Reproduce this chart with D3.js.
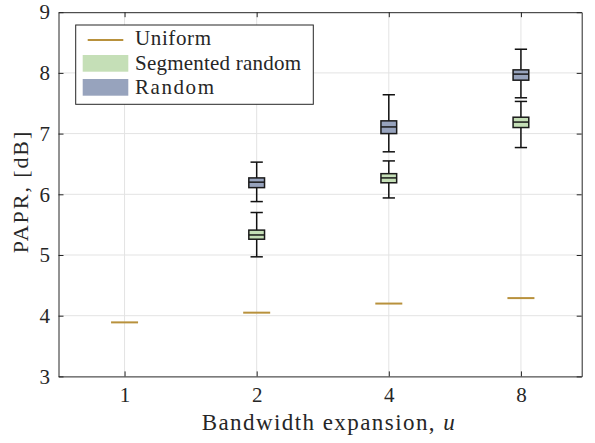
<!DOCTYPE html>
<html>
<head>
<meta charset="utf-8">
<script src="https://cdn.jsdelivr.net/npm/d3@7"></script>
<style>
  html, body { margin: 0; padding: 0; background: #fff; }
  svg { display: block; }
  svg text { font-family: "Liberation Serif", "DejaVu Serif", serif !important; fill: #262626; }
</style>
</head>
<body>
<svg id="chart" width="595" height="443"></svg>
<script>
// ---- data ----
const categories = ["1", "2", "4", "8"];
const yTicks = [3, 4, 5, 6, 7, 8, 9];
const uniform = [3.89, 4.05, 4.20, 4.29];

const boxCategories = ["2", "4", "8"];
const segLow    = [4.97, 5.94, 6.77];
const segQ1     = [5.26, 6.19, 7.10];
const segMedian = [5.33, 6.27, 7.19];
const segQ3     = [5.41, 6.34, 7.27];
const segHigh   = [5.70, 6.55, 7.53];

const randLow    = [5.88, 6.70, 7.59];
const randQ1     = [6.11, 7.00, 7.88];
const randMedian = [6.20, 7.11, 7.98];
const randQ3     = [6.27, 7.21, 8.05];
const randHigh   = [6.53, 7.64, 8.39];

const legendLabels = ["Uniform", "Segmented random", "Random"];

// ---- layout ----
const FONT = "'Liberation Serif', 'DejaVu Serif', serif";
const colors = { uniform: "#b8913c", seg: "#c5dfb7", rand: "#97a3bd" };
const plot = { left: 58.5, right: 581.7, top: 12.2, bottom: 376.4 };

const svg = d3.select("#chart");
const x = d3.scaleLinear().domain([-0.5, 3.46]).range([plot.left, plot.right]);
const y = d3.scaleLinear().domain([3, 9]).range([plot.bottom, plot.top]);
const xi = c => x(categories.indexOf(c));

// grid
const grid = svg.append("g");
grid.selectAll("line.gx").data(categories).enter().append("line")
  .attr("x1", d => xi(d)).attr("x2", d => xi(d))
  .attr("y1", plot.top).attr("y2", plot.bottom)
  .attr("stroke", "#e3e3e3").attr("stroke-width", 1);
grid.selectAll("line.gy").data(yTicks.slice(1, -1)).enter().append("line")
  .attr("x1", plot.left).attr("x2", plot.right)
  .attr("y1", d => y(d)).attr("y2", d => y(d))
  .attr("stroke", "#e3e3e3").attr("stroke-width", 1);

// axes (box with inward ticks)
const tickLen = 5;
const axisColor = "#262626";
const bottomAxis = d3.axisBottom(x).tickValues(d3.range(categories.length))
  .tickFormat(i => categories[i]).tickSizeInner(-tickLen).tickSizeOuter(0).tickPadding(11);
const gb = svg.append("g").attr("transform", `translate(0,${plot.bottom})`).call(bottomAxis);
const topAxis = d3.axisTop(x).tickValues(d3.range(categories.length))
  .tickFormat("").tickSizeInner(-tickLen).tickSizeOuter(0);
const gt = svg.append("g").attr("transform", `translate(0,${plot.top})`).call(topAxis);
const leftAxis = d3.axisLeft(y).tickValues(yTicks).tickFormat(d3.format("d"))
  .tickSizeInner(-tickLen).tickSizeOuter(0).tickPadding(8.5);
const gl = svg.append("g").attr("transform", `translate(${plot.left},0)`).call(leftAxis);
const rightAxis = d3.axisRight(y).tickValues(yTicks).tickFormat("")
  .tickSizeInner(-tickLen).tickSizeOuter(0);
const gr = svg.append("g").attr("transform", `translate(${plot.right},0)`).call(rightAxis);
[gb, gt, gl, gr].forEach(g => {
  g.attr("font-family", FONT).attr("font-size", 21);
  g.select(".domain").attr("stroke", axisColor).attr("stroke-width", 1);
  g.selectAll(".tick line").attr("stroke", axisColor).attr("stroke-width", 1);
  g.selectAll(".tick text").attr("fill", "#262626").style("font-family", FONT);
});
gb.selectAll(".tick text").attr("dy", "0.71em");

// uniform markers
svg.append("g").selectAll("line").data(uniform).enter().append("line")
  .attr("x1", (d, i) => x(i) - 13.5).attr("x2", (d, i) => x(i) + 13.5)
  .attr("y1", d => y(d)).attr("y2", d => y(d))
  .attr("stroke", colors.uniform).attr("stroke-width", 2);

// boxes
function drawBoxes(low, q1, med, q3, high, fill) {
  const g = svg.append("g");
  const boxW = 15.7, capW = 12.3;
  boxCategories.forEach((c, i) => {
    const cx = xi(c);
    g.append("line").attr("x1", cx).attr("x2", cx)
      .attr("y1", y(low[i])).attr("y2", y(high[i]))
      .attr("stroke", "#111").attr("stroke-width", 1.5);
    [low[i], high[i]].forEach(v => {
      g.append("line").attr("x1", cx - capW / 2).attr("x2", cx + capW / 2)
        .attr("y1", y(v)).attr("y2", y(v))
        .attr("stroke", "#111").attr("stroke-width", 1.5);
    });
    g.append("rect").attr("x", cx - boxW / 2).attr("width", boxW)
      .attr("y", y(q3[i])).attr("height", y(q1[i]) - y(q3[i]))
      .attr("fill", fill).attr("stroke", "#1a1a1a").attr("stroke-width", 1.5);
    g.append("line").attr("x1", cx - boxW / 2).attr("x2", cx + boxW / 2)
      .attr("y1", y(med[i])).attr("y2", y(med[i]))
      .attr("stroke", "#1a1a1a").attr("stroke-width", 1.5);
  });
}
drawBoxes(segLow, segQ1, segMedian, segQ3, segHigh, colors.seg);
drawBoxes(randLow, randQ1, randMedian, randQ3, randHigh, colors.rand);

// axis labels
svg.append("text").attr("x", 201.7).attr("y", 430)
  .attr("font-size", 23).style("font-family", FONT)
  .attr("textLength", 253).attr("lengthAdjust", "spacing")
  .html('Bandwidth expansion, <tspan font-style="italic">u</tspan>');
svg.append("text")
  .attr("transform", `translate(28,253.3) rotate(-90)`)
  .attr("font-size", 22).style("font-family", FONT)
  .attr("textLength", 121.6).attr("lengthAdjust", "spacing")
  .text("PAPR, [dB]");

// legend
const lg = svg.append("g");
lg.append("rect").attr("x", 75.7).attr("y", 25).attr("width", 237.6).attr("height", 79.3)
  .attr("fill", "#fff").attr("stroke", "#262626").attr("stroke-width", 1);
const rowBase = [45, 69.5, 93.5];
lg.append("line").attr("x1", 87.7).attr("x2", 123.3).attr("y1", 40).attr("y2", 40)
  .attr("stroke", colors.uniform).attr("stroke-width", 2);
lg.append("rect").attr("x", 82.7).attr("y", 55).attr("width", 45.6).attr("height", 16.7)
  .attr("fill", colors.seg);
lg.append("rect").attr("x", 82.7).attr("y", 79).attr("width", 45.6).attr("height", 16.7)
  .attr("fill", colors.rand);
const legendWidths = [76, 166, 79];
legendLabels.forEach((t, i) => {
  lg.append("text").attr("x", 135).attr("y", rowBase[i]).attr("font-size", 21)
    .style("font-family", FONT)
    .attr("textLength", legendWidths[i]).attr("lengthAdjust", "spacing")
    .text(t);
});
</script>
</body>
</html>
